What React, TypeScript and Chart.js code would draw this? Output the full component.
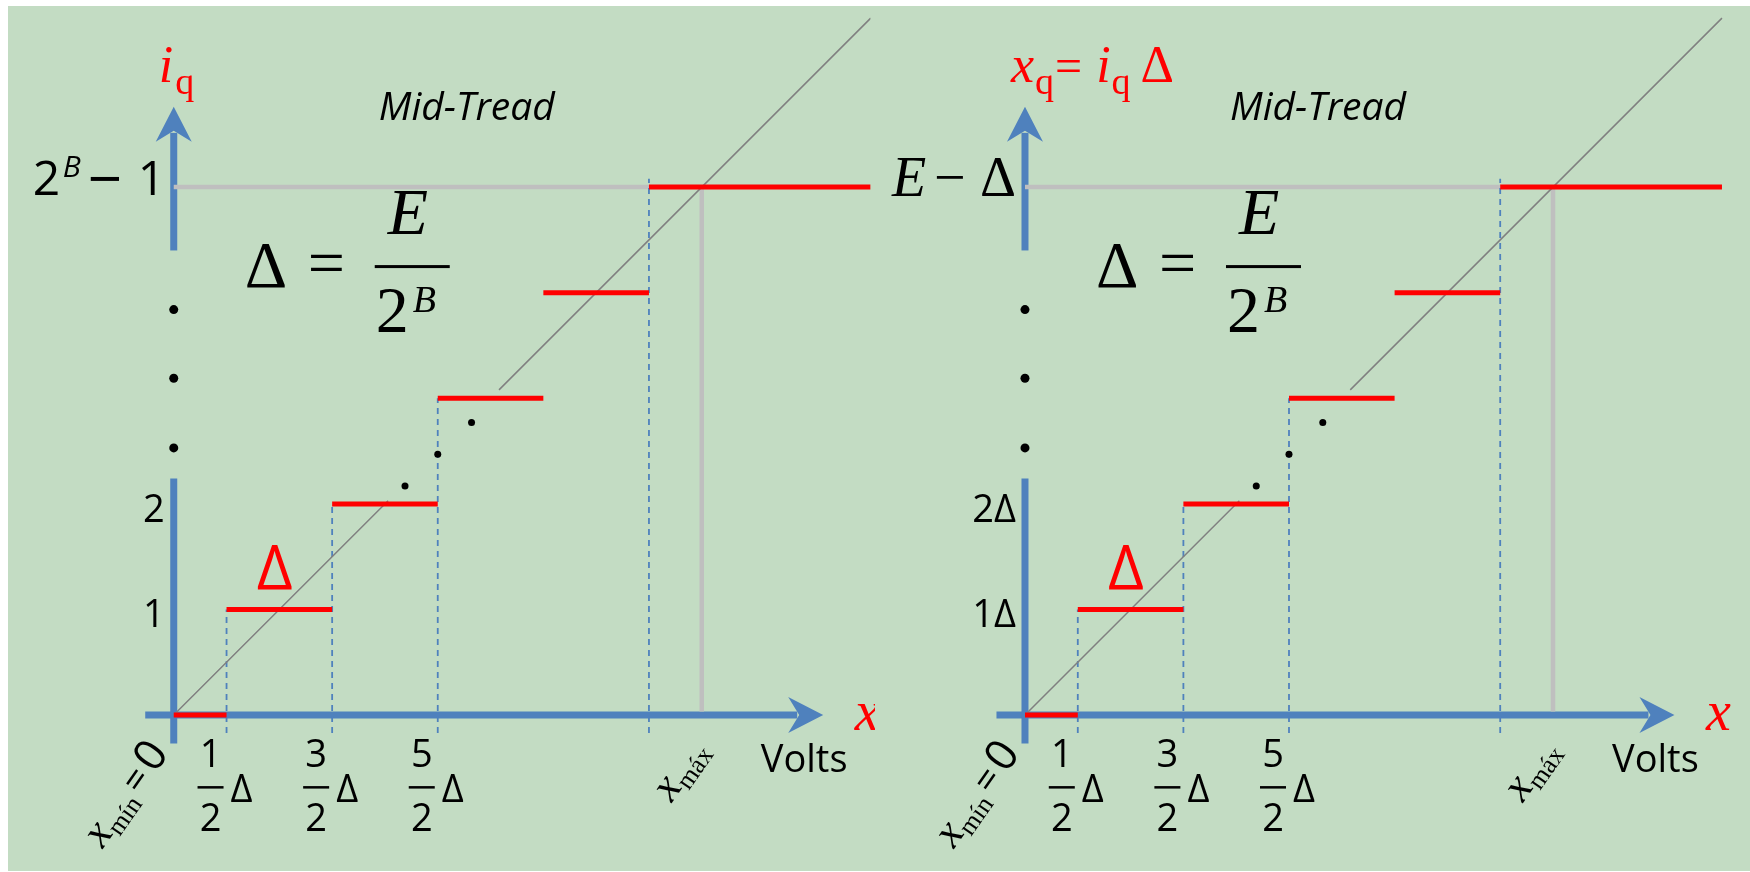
import React, { useEffect, useRef } from "react";
import { Chart, registerables } from "chart.js";
Chart.register(...registerables);

// ---------- data (values in units of Δ) ----------
const LEVELS = [0, 1, 2, 3, 4, 5];
const LEVEL_START = [0, 0.5, 1.5, 2.5, 3.5, 4.5];
const LEVEL_END = [0.5, 1.5, 2.5, 3.5, 4.5, 6.6];
const DASH_X = [0.5, 1.5, 2.5, 4.5];
const DASH_TOP = [1, 2, 3, 5.08];
const DASH_BOTTOM = -0.17;
const X_MAX = 5;
const TOP_LEVEL = 5;
const DIAG_FROM = [0, 3.08];
const DIAG_TO = [2.03, 6.6];
const AXIS_DOTS_Y = [3.84, 3.19, 2.53];
const DIAG_DOTS_X = [2.19, 2.5, 2.82];
const DIAG_DOTS_Y = [2.17, 2.47, 2.77];
const X_AXIS_RANGE = [-0.27, 6.15];
const Y_AXIS_LOWER = [-0.27, 2.24];
const Y_AXIS_UPPER = [4.4, 5.76];
const X_TICK_VALUES = [0.5, 1.5, 2.5];
const X_TICK_NUMERATORS = ["1", "3", "5"];
const X_TICK_DENOMINATOR = "2";
const Y_TICK_VALUES = [1, 2];
const Y_TICK_LABELS_LEFT = ["1", "2"];
const Y_TICK_LABELS_RIGHT = ["1Δ", "2Δ"];

// ---------- style ----------
const BLUE = "#4F81BD";
const RED = "#FF0000";
const GUIDE = "#BFBFBF";
const DIAG = "#808080";
const GREEN = "#C3DCC3";
const SANS = '"Open Sans", "Noto Sans", sans-serif';
const SERIF = '"Liberation Serif", "DejaVu Serif", serif';
const PANEL_W = 875;
const H = 872;
const PX_PER_UNIT = 106.7;
const ORIGIN_Y_PX = 718;

type Pt = { x: number; y: number | null };
function joinSegments(segs: Pt[][]): Pt[] {
  const out: Pt[] = [];
  segs.forEach((s, i) => {
    if (i > 0) out.push({ x: s[0].x, y: null });
    out.push(...s);
  });
  return out;
}

type Run = { t: string; font: string; gap?: number; dy?: number; color?: string };
function drawRuns(ctx: CanvasRenderingContext2D, runs: Run[], x: number, y: number, angle = 0) {
  ctx.save();
  ctx.translate(x, y);
  ctx.rotate((angle * Math.PI) / 180);
  ctx.textBaseline = "alphabetic";
  ctx.textAlign = "left";
  let cx = 0;
  for (const r of runs) {
    ctx.font = r.font;
    ctx.fillStyle = r.color || "#000";
    cx += r.gap || 0;
    ctx.fillText(r.t, cx, r.dy || 0);
    cx += ctx.measureText(r.t).width;
  }
  ctx.restore();
}
function text(ctx: CanvasRenderingContext2D, t: string, x: number, y: number, font: string, color = "#000", align: CanvasTextAlign = "left") {
  ctx.save();
  ctx.font = font;
  ctx.fillStyle = color;
  ctx.textAlign = align;
  ctx.textBaseline = "alphabetic";
  ctx.fillText(t, x, y);
  ctx.restore();
}
function arrowHead(ctx: CanvasRenderingContext2D, tx: number, ty: number, dx: number, dy: number) {
  const nx = -dy, ny = dx;
  const L = 35, W = 18, N = 24;
  ctx.beginPath();
  ctx.moveTo(tx, ty);
  ctx.lineTo(tx - L * dx + W * nx, ty - L * dy + W * ny);
  ctx.lineTo(tx - N * dx, ty - N * dy);
  ctx.lineTo(tx - L * dx - W * nx, ty - L * dy - W * ny);
  ctx.closePath();
  ctx.fillStyle = BLUE;
  ctx.fill();
}

function makePlugin(variant: "left" | "right") {
  return {
    id: "quantizerPanel",
    beforeDatasetsDraw(chart: any) {
      const ctx: CanvasRenderingContext2D = chart.ctx;
      const X = (v: number) => chart.scales.x.getPixelForValue(v);
      const Y = (v: number) => chart.scales.y.getPixelForValue(v);
      ctx.save();
      ctx.strokeStyle = BLUE;
      ctx.lineWidth = 7;
      ctx.lineCap = "butt";
      // x axis
      const tipX = X(X_AXIS_RANGE[1]);
      ctx.beginPath();
      ctx.moveTo(X(X_AXIS_RANGE[0]), Y(0));
      ctx.lineTo(tipX - 26, Y(0));
      ctx.stroke();
      arrowHead(ctx, tipX, Y(0), 1, 0);
      // y axis lower
      ctx.beginPath();
      ctx.moveTo(X(0), Y(Y_AXIS_LOWER[0]));
      ctx.lineTo(X(0), Y(Y_AXIS_LOWER[1]));
      ctx.stroke();
      // y axis upper
      const tipY = Y(Y_AXIS_UPPER[1]);
      ctx.beginPath();
      ctx.moveTo(X(0), Y(Y_AXIS_UPPER[0]));
      ctx.lineTo(X(0), tipY + 26);
      ctx.stroke();
      arrowHead(ctx, X(0), tipY, 0, -1);
      ctx.restore();
    },
    afterDatasetsDraw(chart: any) {
      const ctx: CanvasRenderingContext2D = chart.ctx;
      const X = (v: number) => chart.scales.x.getPixelForValue(v);
      const Y = (v: number) => chart.scales.y.getPixelForValue(v);
      const ox = X(0), oy = Y(0);

      // axis title
      if (variant === "left") {
        drawRuns(ctx, [
          { t: "i", font: `italic 52px ${SERIF}`, color: RED },
          { t: "q", font: `38px ${SERIF}`, color: RED, dy: 12, gap: 2 },
        ], ox - 15, oy - 633);
      } else {
        drawRuns(ctx, [
          { t: "x", font: `italic 52px ${SERIF}`, color: RED },
          { t: "q", font: `38px ${SERIF}`, color: RED, dy: 12, gap: 1 },
          { t: "=", font: `48px ${SERIF}`, color: RED, gap: 1 },
          { t: "i", font: `italic 52px ${SERIF}`, color: RED, gap: 14 },
          { t: "q", font: `38px ${SERIF}`, color: RED, dy: 12, gap: 1 },
          { t: "Δ", font: `52px ${SERIF}`, color: RED, gap: 10 },
        ], ox - 14, oy - 633);
      }

      // Mid-Tread
      text(ctx, "Mid-Tread", ox + 205, oy - 595, `italic 39px ${SANS}`);

      // top level label
      if (variant === "left") {
        text(ctx, "2", ox - 141, oy - 520, `48px ${SANS}`);
        text(ctx, "B", ox - 111, oy - 538, `italic 30px ${SANS}`);
        text(ctx, "−", ox - 86, oy - 515, `60px ${SANS}`);
        text(ctx, "1", ox - 36, oy - 520, `48px ${SANS}`);
      } else {
        text(ctx, "E", ox - 133, oy - 519, `italic 56px ${SERIF}`);
        text(ctx, "−", ox - 91, oy - 519, `56px ${SERIF}`);
        text(ctx, "Δ", ox - 45, oy - 519, `56px ${SERIF}`);
      }

      // Δ = E / 2^B
      text(ctx, "Δ", ox + 71, oy - 428, `66px ${SERIF}`);
      text(ctx, "=", ox + 134, oy - 430, `66px ${SERIF}`);
      ctx.fillStyle = "#000";
      ctx.fillRect(ox + 201, oy - 450, 75, 3);
      text(ctx, "E", ox + 214, oy - 481, `italic 66px ${SERIF}`);
      text(ctx, "2", ox + 202, oy - 383, `66px ${SERIF}`);
      text(ctx, "B", ox + 239, oy - 403, `italic 38px ${SERIF}`);

      // y tick labels
      const yl = variant === "left" ? Y_TICK_LABELS_LEFT : Y_TICK_LABELS_RIGHT;
      Y_TICK_VALUES.forEach((v, i) => {
        text(ctx, yl[i], ox - 9, Y(v) + 18, `38px ${SANS}`, "#000", "right");
      });

      // red Δ step marker
      text(ctx, "Δ", ox + 83, oy - 125, `62px ${SANS}`, RED);

      // x tick fraction labels
      X_TICK_VALUES.forEach((v, i) => {
        const cx = X(v);
        text(ctx, X_TICK_NUMERATORS[i], cx - 16, oy + 52, `38px ${SANS}`, "#000", "center");
        ctx.fillStyle = "#000";
        ctx.fillRect(cx - 29, oy + 71, 26, 2.5);
        text(ctx, X_TICK_DENOMINATOR, cx - 16, oy + 116, `38px ${SANS}`, "#000", "center");
        text(ctx, "Δ", cx + 4, oy + 87, `38px ${SANS}`);
      });

      // x_min = 0 (rotated)
      drawRuns(ctx, [
        { t: "x", font: `italic 44px ${SERIF}` },
        { t: "mín", font: `26px ${SERIF}`, dy: 7 },
        { t: "=", font: `38px ${SANS}`, gap: 5 },
        { t: "0", font: `44px ${SANS}`, gap: 5 },
      ], ox - 71, oy + 134, -55);

      // x_max (rotated)
      drawRuns(ctx, [
        { t: "x", font: `italic 44px ${SERIF}` },
        { t: "máx", font: `26px ${SERIF}`, dy: 7 },
      ], X(X_MAX) - 30, oy + 88, -55);

      // axis label x and Volts
      text(ctx, "x", ox + 681, oy + 15, `italic 56px ${SERIF}`, RED);
      text(ctx, "Volts", ox + 587, oy + 57, `38px ${SANS}`);
    },
  };
}

function buildConfig(variant: "left" | "right", originPx: number): any {
  const steps = joinSegments(LEVELS.map((lv, i) => [
    { x: LEVEL_START[i], y: lv },
    { x: LEVEL_END[i], y: lv },
  ]));
  const dashed = joinSegments(DASH_X.map((x, i) => [
    { x, y: DASH_BOTTOM },
    { x, y: DASH_TOP[i] },
  ]));
  const diagonal = joinSegments(DIAG_FROM.map((a, i) => [
    { x: a, y: a },
    { x: DIAG_TO[i], y: DIAG_TO[i] },
  ]));
  const guides = joinSegments([
    [{ x: 0, y: TOP_LEVEL }, { x: LEVEL_START[LEVEL_START.length - 1], y: TOP_LEVEL }],
    [{ x: X_MAX, y: TOP_LEVEL }, { x: X_MAX, y: 0.035 }],
  ]);
  const axisDots = AXIS_DOTS_Y.map((y) => ({ x: 0, y }));
  const diagDots = DIAG_DOTS_X.map((x, i) => ({ x, y: DIAG_DOTS_Y[i] }));

  const line = (data: Pt[], color: string, width: number, dash: number[] = []) => ({
    type: "line",
    data,
    borderColor: color,
    borderWidth: width,
    borderDash: dash,
    borderCapStyle: "butt",
    pointRadius: 0,
    spanGaps: false,
    fill: false,
    tension: 0,
  });
  const dots = (data: Pt[], r: number) => ({
    type: "line",
    data,
    showLine: false,
    pointRadius: r,
    pointBackgroundColor: "#000",
    pointBorderWidth: 0,
  });

  return {
    type: "line",
    data: {
      datasets: [
        dots(axisDots, 4.5),
        dots(diagDots, 3.5),
        line(steps, RED, 5),
        line(diagonal, DIAG, 1.5),
        line(dashed, BLUE, 1.8, [6, 5]),
        line(guides, GUIDE, 4.5),
      ],
    },
    options: {
      responsive: false,
      maintainAspectRatio: false,
      animation: false,
      events: [],
      layout: { padding: 0 },
      plugins: { legend: { display: false }, tooltip: { enabled: false }, title: { display: false } },
      scales: {
        x: { type: "linear", display: false, min: -originPx / PX_PER_UNIT, max: (PANEL_W - originPx) / PX_PER_UNIT },
        y: { type: "linear", display: false, min: -(H - ORIGIN_Y_PX) / PX_PER_UNIT, max: ORIGIN_Y_PX / PX_PER_UNIT },
      },
    },
    plugins: [makePlugin(variant)],
  };
}

function Panel({ variant, left, originPx }: { variant: "left" | "right"; left: number; originPx: number }) {
  const ref = useRef<HTMLCanvasElement>(null);
  useEffect(() => {
    const chart = new Chart(ref.current as HTMLCanvasElement, buildConfig(variant, originPx));
    return () => chart.destroy();
  }, [variant, originPx]);
  return (
    <canvas
      ref={ref}
      width={PANEL_W}
      height={H}
      style={{ position: "absolute", left, top: 0, width: PANEL_W, height: H }}
    />
  );
}

export default function App() {
  useEffect(() => {
    document.body.style.margin = "0";
    document.body.style.overflow = "hidden";
  }, []);
  return (
    <div style={{ position: "absolute", left: 0, top: 0, width: 1750, height: H, background: "#fff", overflow: "hidden" }}>
      <div style={{ position: "absolute", left: 8, top: 6, width: 1742, height: 865, background: GREEN }} />
      <Panel variant="left" left={0} originPx={171} />
      <Panel variant="right" left={PANEL_W} originPx={147} />
    </div>
  );
}
